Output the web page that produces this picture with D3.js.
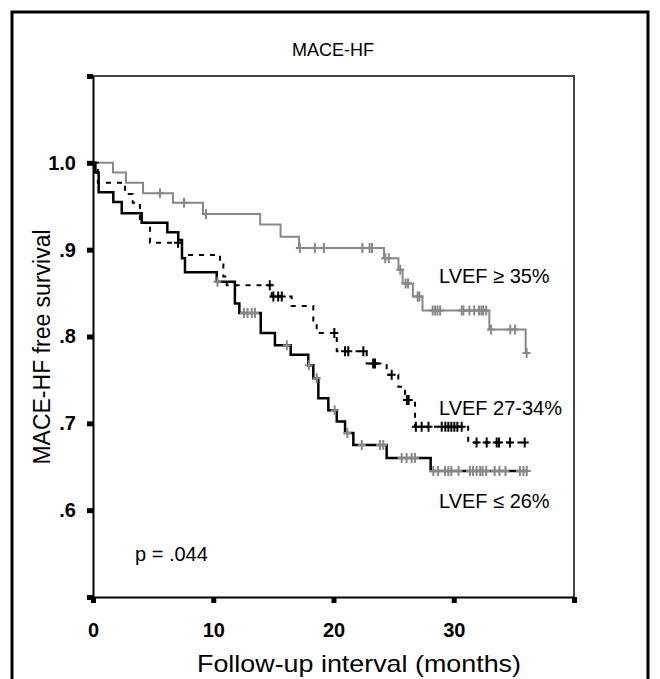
<script src="https://d3js.org/d3.v7.min.js"></script>
<style>
    body { margin: 0; background: #fff; }
    text { font-family: Arial, "Liberation Sans", sans-serif; }
</style>
<svg id="km" width="660" height="679"></svg>
<script>
    // step points (months, survival)
    var hiTimes = [0, 1.66, 2.74, 4.16, 6.65, 9.15, 13.9, 15.6, 17.13, 24.2, 25.4, 25.75, 26.6, 27.4, 32.96, 35.98];
    var hiSurv = [1.0, 0.989, 0.977, 0.965, 0.954, 0.941, 0.929, 0.915, 0.902, 0.890, 0.877, 0.861, 0.846, 0.830, 0.808, 0.781];
    var hiCensored = [5.57, 7.57, 9.4, 17.2, 18.45, 19.2, 22.4, 23.0, 23.2, 24.3, 24.6, 25.55, 26.0, 26.2, 27.0, 27.15,
        28.25, 28.45, 28.65, 28.87, 30.66, 30.8, 31.3, 31.7, 32.1, 32.3, 32.45, 32.7, 33.1, 34.7, 35.1, 36.06];

    var midTimes = [0, 0.4, 2.66, 3.3, 3.9, 4.74, 7.4, 10.56, 10.84, 11.12, 14.86, 16.52, 18.32, 18.6, 20.27, 22.76, 24.42, 25.39, 25.95, 26.78, 31.2];
    var midSurv = [1.0, 0.977, 0.964, 0.954, 0.931, 0.908, 0.894, 0.883, 0.869, 0.859, 0.846, 0.835, 0.817, 0.804, 0.783, 0.769, 0.756, 0.742, 0.727, 0.696, 0.678];
    var midCensored = [7.07, 14.7, 15.0, 15.4, 15.7, 20.07, 20.96, 21.23, 22.48, 23.3, 23.45, 24.84, 26.1, 26.25, 26.85, 27.33, 27.9,
        29.0, 29.3, 29.55, 29.8, 30.05, 30.3, 30.66, 31.9, 32.74, 33.57, 33.76, 34.68, 35.9];

    var lowTimes = [0, 0.2, 0.47, 1.69, 2.39, 4.05, 6.18, 7.09, 7.4, 7.65, 10.29, 11.8, 12.17, 13.95, 15.13, 16.44, 17.9, 18.32, 18.74, 19.57, 20.27, 20.96, 21.65, 24.42, 28.08];
    var lowSurv = [1.0, 0.989, 0.966, 0.955, 0.942, 0.931, 0.920, 0.911, 0.890, 0.874, 0.863, 0.838, 0.827, 0.804, 0.790, 0.779, 0.767, 0.752, 0.729, 0.715, 0.702, 0.689, 0.675, 0.660, 0.645];
    var lowCensored = [10.35, 12.55, 12.85, 13.2, 13.47, 16.12, 17.95, 18.6, 20.1, 21.15, 22.35, 23.87, 24.14, 25.67, 26.08, 26.5, 26.78,
        28.3, 28.7, 29.27, 29.55, 29.8, 30.4, 31.35, 31.6, 31.9, 32.2, 32.4, 32.7, 33.4, 33.8, 34.3, 35.5, 35.8, 36.07];

    var groupLabels = ["LVEF \u2265 35%", "LVEF 27-34%", "LVEF \u2264 26%"];
    var yTicks = [0.5, 0.6, 0.7, 0.8, 0.9, 1.0, 1.1];
    var yTickLabels = ["", ".6", ".7", ".8", ".9", "1.0", ""];
    var xTicks = [0, 10, 20, 30, 40];
    var xTickLabels = ["0", "10", "20", "30", ""];

    var svg = d3.select("#km");
    var plot = {left: 93, right: 574, top: 76, bottom: 597};

    var x = d3.scaleLinear().domain([0, 40]).range([plot.left, plot.right]);
    var y = d3.scaleLinear().domain([0.5, 1.1]).range([plot.bottom, plot.top]);

    // outer frame
    svg.append("rect")
        .attr("x", 12).attr("y", 12)
        .attr("width", 636).attr("height", 700)
        .attr("fill", "none")
        .attr("stroke", "#000")
        .attr("stroke-width", 3);

    // top and right border of plot box
    svg.append("path")
        .attr("d", `M${plot.left},${plot.top}H${plot.right}V${plot.bottom}`)
        .attr("fill", "none")
        .attr("stroke", "#444")
        .attr("stroke-width", 2);

    function curve(times, surv, censored) {
        var pts = times.map((t, i) => [t, surv[i]]);
        var last = d3.max(censored.concat(times));
        pts.push([last, surv[surv.length - 1]]);
        return pts;
    }
    function level(times, surv, t) {
        return surv[d3.bisectRight(times, t) - 1];
    }
    var line = d3.line()
        .x(d => x(d[0]))
        .y(d => y(d[1]))
        .curve(d3.curveStepAfter);

    var series = [
        {times: hiTimes, surv: hiSurv, cens: hiCensored, color: "#888", width: 2, dash: null, censColor: "#888"},
        {times: lowTimes, surv: lowSurv, cens: lowCensored, color: "#000", width: 2.5, dash: null, censColor: "#888"},
        {times: midTimes, surv: midSurv, cens: midCensored, color: "#000", width: 2, dash: "5,6", censColor: "#000"}
    ];

    series.forEach(function(s) {
        var g = svg.append("g");
        g.append("path")
            .datum(curve(s.times, s.surv, s.cens))
            .attr("d", line)
            .attr("fill", "none")
            .attr("stroke", s.color)
            .attr("stroke-width", s.width)
            .attr("stroke-dasharray", s.dash);
        g.selectAll("path.cens")
            .data(s.cens)
            .join("path")
            .attr("class", "cens")
            .attr("d", function(t) {
                var cx = x(t), cy = y(level(s.times, s.surv, t));
                return `M${cx - 4},${cy}H${cx + 4}M${cx},${cy - 5}V${cy + 5}`;
            })
            .attr("stroke", s.censColor)
            .attr("stroke-width", 2);
    });

    // axes
    var yAxis = g => g
        .attr("transform", `translate(${plot.left},0)`)
        .call(d3.axisLeft(y).tickValues(yTicks).tickSize(6).tickSizeOuter(0).tickPadding(11)
            .tickFormat((d, i) => yTickLabels[i]));
    var xAxis = g => g
        .attr("transform", `translate(0,${plot.bottom})`)
        .call(d3.axisBottom(x).tickValues(xTicks).tickSize(6).tickSizeOuter(0).tickPadding(20)
            .tickFormat((d, i) => xTickLabels[i]));

    [svg.append("g").call(yAxis), svg.append("g").call(xAxis)].forEach(function(ax) {
        ax.select(".domain").attr("stroke", "#000").attr("stroke-width", 2);
        ax.selectAll(".tick line").attr("stroke", "#000").attr("stroke-width", 5);
        ax.selectAll(".tick text")
            .attr("fill", "#000")
            .style("font-family", "Arial, 'Liberation Sans', sans-serif")
            .style("font-size", "20px")
            .style("font-weight", "bold");
    });

    // titles and labels
    svg.append("text")
        .attr("x", 333).attr("y", 56)
        .attr("text-anchor", "middle")
        .style("font-size", "18px")
        .text("MACE-HF");

    svg.append("text")
        .attr("transform", "translate(50,347) rotate(-90)")
        .attr("text-anchor", "middle")
        .style("font-size", "23px")
        .text("MACE-HF free survival");

    svg.append("text")
        .attr("x", 197).attr("y", 672)
        .attr("textLength", 324)
        .attr("lengthAdjust", "spacingAndGlyphs")
        .style("font-size", "24px")
        .text("Follow-up interval (months)");

    svg.append("text")
        .attr("x", 135).attr("y", 561)
        .style("font-size", "20px")
        .text("p = .044");

    var labelPos = [[439, 283], [439, 415], [439, 508]];
    svg.selectAll("text.grp")
        .data(groupLabels)
        .join("text")
        .attr("class", "grp")
        .attr("x", (d, i) => labelPos[i][0])
        .attr("y", (d, i) => labelPos[i][1])
        .style("font-size", "20px")
        .text(d => d);
</script>
